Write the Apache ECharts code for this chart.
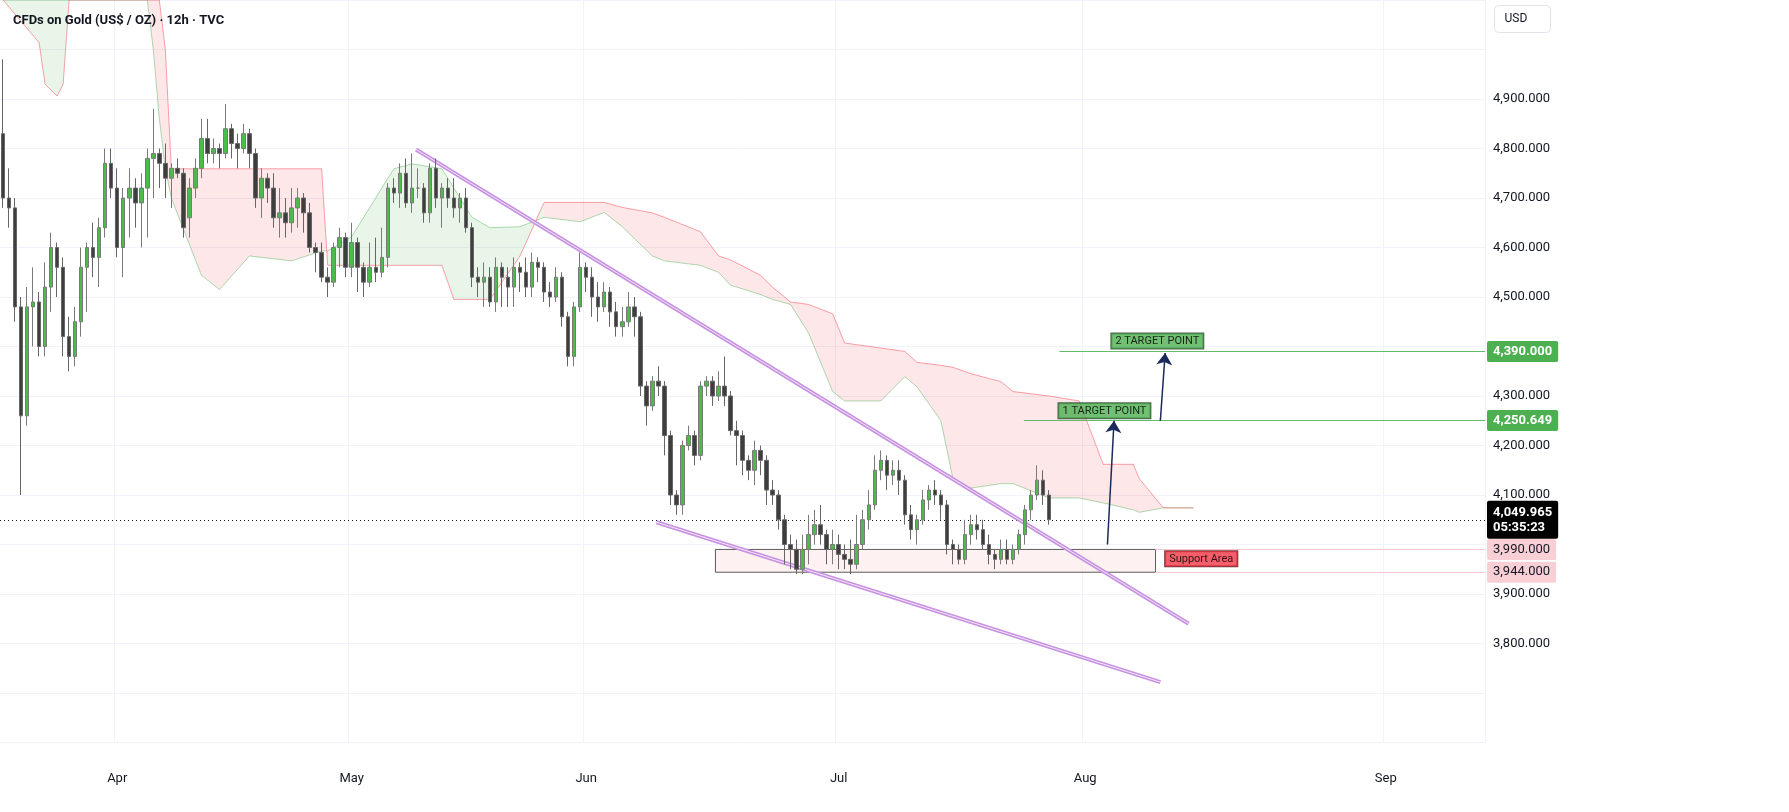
<!DOCTYPE html>
<html>
<head>
<meta charset="utf-8">
<script src="https://cdn.jsdelivr.net/npm/echarts@6/dist/echarts.min.js"></script>
<style>
  html, body { margin: 0; padding: 0; background: #fff; }
  #chart { width: 1789px; height: 812px; }
</style>
</head>
<body>
<div id="chart"></div>
<script>
// 12h candles, [open, close, low, high]
const candles = [
  [4830,4700,4680,4980],[4700,4680,4640,4760],[4680,4480,4450,4700],[4480,4260,4100,4500],
  [4260,4480,4240,4520],[4480,4490,4400,4560],[4490,4400,4380,4510],[4400,4520,4380,4570],
  [4520,4600,4470,4630],[4600,4560,4500,4610],[4560,4420,4380,4580],[4420,4380,4350,4460],
  [4380,4450,4360,4480],[4450,4560,4420,4600],[4560,4600,4470,4610],[4600,4580,4540,4650],
  [4580,4640,4520,4660],[4640,4770,4620,4800],[4770,4720,4700,4800],[4720,4600,4580,4760],
  [4600,4700,4540,4720],[4700,4720,4620,4760],[4720,4690,4640,4740],[4690,4720,4600,4750],
  [4720,4780,4620,4800],[4780,4790,4700,4880],[4790,4770,4720,4800],[4770,4740,4700,4810],
  [4740,4760,4680,4770],[4760,4750,4740,4780],[4750,4640,4620,4760],[4660,4720,4620,4740],
  [4720,4760,4700,4780],[4760,4820,4740,4860],[4820,4790,4770,4860],[4790,4800,4770,4820],
  [4800,4790,4760,4810],[4790,4840,4780,4890],[4840,4810,4780,4850],[4810,4800,4760,4830],
  [4800,4830,4790,4850],[4830,4790,4760,4840],[4790,4700,4680,4800],[4700,4740,4660,4760],
  [4740,4720,4690,4750],[4720,4660,4640,4750],[4660,4670,4620,4720],[4670,4650,4620,4700],
  [4650,4680,4630,4720],[4680,4700,4640,4720],[4700,4670,4630,4710],[4670,4600,4590,4690],
  [4600,4590,4550,4610],[4590,4540,4530,4610],[4540,4530,4500,4560],[4530,4600,4520,4610],
  [4600,4620,4560,4640],[4620,4560,4540,4630],[4560,4610,4540,4650],[4610,4560,4510,4620],
  [4560,4530,4500,4570],[4530,4560,4520,4610],[4560,4550,4530,4620],[4550,4580,4540,4640],
  [4580,4720,4560,4730],[4720,4710,4690,4740],[4710,4750,4680,4770],[4750,4690,4680,4780],
  [4690,4720,4670,4790],[4720,4720,4700,4760],[4720,4670,4650,4730],[4670,4760,4650,4770],
  [4760,4700,4680,4780],[4700,4720,4640,4730],[4720,4700,4680,4740],[4700,4680,4660,4740],
  [4680,4700,4650,4710],[4700,4640,4630,4720],[4640,4540,4520,4650],[4540,4530,4500,4560],
  [4530,4540,4480,4570],[4540,4490,4480,4560],[4490,4560,4470,4580],[4560,4540,4480,4570],
  [4540,4520,4480,4560],[4520,4560,4480,4580],[4560,4550,4510,4570],[4550,4520,4500,4580],
  [4520,4570,4500,4590],[4570,4560,4530,4580],[4560,4510,4490,4570],[4510,4500,4480,4530],
  [4500,4540,4490,4560],[4540,4460,4440,4550],[4460,4380,4360,4470],[4380,4480,4360,4490],
  [4480,4560,4470,4590],[4560,4540,4510,4570],[4540,4500,4460,4560],[4500,4480,4450,4530],
  [4480,4510,4470,4530],[4510,4470,4440,4520],[4470,4440,4420,4490],[4440,4450,4420,4480],
  [4450,4480,4440,4510],[4480,4460,4420,4500],[4460,4320,4300,4470],[4320,4280,4240,4330],
  [4280,4330,4270,4340],[4330,4320,4300,4360],[4320,4220,4180,4330],[4220,4100,4080,4230],
  [4100,4080,4060,4110],[4080,4200,4060,4210],[4200,4220,4190,4240],[4220,4180,4160,4230],
  [4180,4320,4170,4330],[4320,4330,4300,4340],[4330,4300,4280,4340],[4300,4320,4290,4350],
  [4320,4300,4280,4380],[4300,4230,4220,4310],[4230,4220,4160,4250],[4220,4170,4140,4230],
  [4170,4150,4130,4180],[4150,4190,4120,4210],[4190,4170,4140,4200],[4170,4110,4080,4180],
  [4110,4100,4080,4130],[4100,4050,4030,4110],[4050,4000,3960,4060],[4000,3990,3950,4020],
  [3990,3950,3940,4010],[3950,3990,3940,4020],[3990,4020,3960,4060],[4020,4040,4000,4070],
  [4040,4020,4000,4080],[4020,3990,3960,4030],[3990,4000,3960,4030],[4000,3980,3950,4020],
  [3980,3970,3950,4000],[3970,3960,3940,4010],[3960,4000,3950,4060],[4000,4050,3990,4070],
  [4050,4080,4030,4110],[4080,4150,4070,4180],[4150,4170,4130,4190],[4170,4140,4110,4180],
  [4140,4150,4120,4170],[4150,4130,4100,4170],[4130,4060,4040,4140],[4060,4030,4010,4080],
  [4030,4050,4000,4060],[4050,4090,4040,4110],[4090,4110,4070,4120],[4110,4100,4080,4130],
  [4100,4080,4050,4110],[4080,4000,3980,4090],[4000,3990,3960,4010],[3990,3970,3960,4000],
  [3970,4020,3960,4050],[4020,4040,4000,4060],[4040,4030,4010,4060],[4030,4000,3990,4050],
  [4000,3980,3960,4020],[3980,3970,3950,3990],[3970,3990,3960,4010],[3990,3970,3960,4010],
  [3970,3990,3960,4000],[3990,4020,3980,4030],[4020,4070,4000,4080],[4070,4100,4050,4110],
  [4100,4130,4090,4160],[4130,4100,4080,4150],[4100,4050,4040,4110]
];

// ichimoku cloud (shifted forward), bar index -> span A / span B
const cloudIdx = [0,6,7,9,10,11,24,25,26,27,28,33,36,41,48,53,54,58,65,68,73,75,78,81,86,90,96,100,103,108,110,116,119,121,126,128,131,134,138,140,146,150,152,156,158,161,166,168,174,179,183,188,189,193,198];
const spanA = [5100,5100,5100,5100,5100,5100,5100,5000,4860,4760,4700,4544,4515,4583,4573,4593,4593,4622,4759,4769,4759,4720,4661,4640,4642,4661,4652,4671,4642,4583,4573,4564,4550,4524,4505,4495,4485,4427,4309,4290,4290,4339,4319,4250,4133,4114,4123,4123,4094,4094,4084,4070,4065,4074,4074];
const spanB = [5100,5014,4930,4906,4930,5100,5100,5100,5100,5000,4759,4759,4759,4759,4759,4759,4564,4564,4564,4564,4564,4495,4495,4495,4583,4691,4691,4691,4681,4670,4661,4632,4583,4575,4544,4520,4490,4485,4466,4407,4397,4390,4368,4362,4358,4345,4329,4309,4300,4290,4162,4162,4133,4074,4074];

const totalSlots = 247;
const monthTicks = { 19: 'Apr', 58: 'May', 97: 'Jun', 139: 'Jul', 180: 'Aug', 230: 'Sep' };
const lastPrice = 4049.965;
const countdown = '05:35:23';
const target1 = 4250.649, target2 = 4390.000;
const supportTop = 3990, supportBottom = 3944;
const hiddenTicks = [3600, 3700, 4000, 4400, 5000, 5100];

const cats = [];
for (let i = 0; i < totalSlots; i++) cats.push(monthTicks[i] || '');
const isTick = (i) => monthTicks[i] !== undefined;

const cloudSegs = [];
for (let i = 0; i < cloudIdx.length - 1; i++) {
  cloudSegs.push([cloudIdx[i], spanA[i], spanB[i], cloudIdx[i + 1], spanA[i + 1], spanB[i + 1]]);
}

const fmt = (v) => v.toLocaleString('en-US', { minimumFractionDigits: 3, maximumFractionDigits: 3 });
const tag = (bg, fg) => ({
  show: true, position: 'end', distance: 2, align: 'left',
  backgroundColor: bg, color: fg, padding: [4, 6], fontSize: 13, fontFamily: 'Roboto',
  fontWeight: 'bold', borderRadius: 2
});

const chart = echarts.init(document.getElementById('chart'), null, { renderer: 'canvas' });
chart.setOption({
  animation: false,
  backgroundColor: '#fff',
  textStyle: { fontFamily: 'Roboto' },
  title: {
    text: 'CFDs on Gold (US$ / OZ) · 12h · TVC', left: 8, top: 9,
    textStyle: { fontSize: 13, fontWeight: 'bold', color: '#131722', fontFamily: 'Roboto' }
  },
  graphic: [{
    type: 'group', left: 1494, top: 5,
    children: [
      { type: 'rect', shape: { width: 56, height: 27, r: 4 }, style: { fill: '#fff', stroke: '#e0e3eb' } },
      { type: 'text', left: 10, top: 7, style: { text: 'USD', fontSize: 12, fill: '#131722', fontFamily: 'Roboto' } }
    ]
  }],
  grid: { left: 0, right: 304, top: -24, bottom: 69.5 },
  xAxis: [{
    type: 'category', data: cats, boundaryGap: true,
    axisLine: { show: false }, axisTick: { show: false },
    axisLabel: { interval: (i) => isTick(i), color: '#131722', fontSize: 13, margin: 30 },
    splitLine: { show: true, interval: (i) => isTick(i), lineStyle: { color: '#f0f3fa' } }
  }, {
    type: 'value', min: -0.5, max: totalSlots - 0.5, show: false
  }],
  yAxis: {
    type: 'value', position: 'right', min: 3600, max: 5100, interval: 100,
    axisLine: { show: false }, axisTick: { show: false },
    axisLabel: {
      color: '#131722', fontSize: 13, margin: 8,
      formatter: (v) => hiddenTicks.includes(v) ? '' : fmt(v)
    },
    splitLine: { lineStyle: { color: '#f0f3fa' } }
  },
  series: [
    {
      type: 'custom', xAxisIndex: 1, silent: true, z: 1, clip: true,
      data: cloudSegs,
      renderItem: (params, api) => {
        const p1 = api.coord([api.value(0), api.value(1)]);
        const p2 = api.coord([api.value(3), api.value(4)]);
        const p3 = api.coord([api.value(3), api.value(5)]);
        const p4 = api.coord([api.value(0), api.value(2)]);
        const green = api.value(1) + api.value(4) > api.value(2) + api.value(5);
        return {
          type: 'polygon', shape: { points: [p1, p2, p3, p4] },
          style: { fill: green ? 'rgba(76,175,80,0.13)' : 'rgba(242,54,69,0.12)', stroke: null }
        };
      }
    },
    {
      type: 'line', xAxisIndex: 1, silent: true, symbol: 'none', z: 2,
      data: cloudIdx.map((x, i) => [x, spanA[i]]),
      lineStyle: { color: 'rgba(76,175,80,0.45)', width: 1 }
    },
    {
      type: 'line', xAxisIndex: 1, silent: true, symbol: 'none', z: 2,
      data: cloudIdx.map((x, i) => [x, spanB[i]]),
      lineStyle: { color: 'rgba(242,54,69,0.45)', width: 1 }
    },
    {
      type: 'candlestick', data: candles, barWidth: 4, z: 5,
      itemStyle: { color: '#4cbb4c', color0: '#3e3e3e', borderColor: '#7a7a7a', borderColor0: '#666', borderWidth: 1 },
      markLine: {
        silent: true, symbol: 'none',
        data: [{
          yAxis: lastPrice,
          lineStyle: { color: '#131722', type: [1, 3], width: 1 },
          label: Object.assign(tag('#000', '#fff'), { formatter: fmt(lastPrice) + '\n' + countdown, lineHeight: 15 })
        }]
      }
    },
    {
      type: 'line', xAxisIndex: 1, data: [], z: 6,
      markArea: {
        silent: true,
        itemStyle: { color: 'rgba(252,230,230,0.55)', borderColor: '#333', borderWidth: 0.8 },
        data: [[{ coord: [118.5, supportTop] }, { coord: [191.7, supportBottom] }]]
      },
      markLine: {
        silent: true, symbol: 'none',
        data: [
          [{ coord: [175.7, target2], lineStyle: { color: '#66bb6a', width: 1.2, type: 'solid' }, label: Object.assign(tag('#4caf50', '#fff'), { formatter: fmt(target2) }) }, { coord: [totalSlots - 0.5, target2] }],
          [{ coord: [169.8, target1], lineStyle: { color: '#66bb6a', width: 1.2, type: 'solid' }, label: Object.assign(tag('#4caf50', '#fff'), { formatter: fmt(target1) }) }, { coord: [totalSlots - 0.5, target1] }],
          [{ coord: [191.7, supportTop], lineStyle: { color: '#f8c6d0', width: 1, type: 'solid' }, label: Object.assign(tag('#f9cfd6', '#131722'), { formatter: fmt(supportTop), fontWeight: 'normal' }) }, { coord: [totalSlots - 0.5, supportTop] }],
          [{ coord: [191.7, supportBottom], lineStyle: { color: '#f8c6d0', width: 1, type: 'solid' }, label: Object.assign(tag('#f9cfd6', '#131722'), { formatter: fmt(supportBottom), fontWeight: 'normal' }) }, { coord: [totalSlots - 0.5, supportBottom] }]
        ]
      }
    },
    {
      // falling wedge, outer band
      type: 'line', xAxisIndex: 1, data: [], z: 7,
      markLine: {
        silent: true, symbol: 'none', label: { show: false },
        lineStyle: { color: '#c792e0', width: 4, type: 'solid' },
        data: [
          [{ coord: [68.7, 4798] }, { coord: [197.2, 3840] }],
          [{ coord: [108.7, 4045] }, { coord: [192.5, 3722] }]
        ]
      }
    },
    {
      type: 'line', xAxisIndex: 1, data: [], z: 8,
      markLine: {
        silent: true, symbol: 'none', label: { show: false },
        lineStyle: { color: '#f3e6fa', width: 1, type: 'solid' },
        data: [
          [{ coord: [68.7, 4798] }, { coord: [197.2, 3840] }],
          [{ coord: [108.7, 4045] }, { coord: [192.5, 3722] }]
        ]
      }
    },
    {
      // target arrows
      type: 'line', xAxisIndex: 1, data: [], z: 9,
      markLine: {
        silent: true, symbol: ['none', 'arrow'], symbolSize: 12, label: { show: false },
        lineStyle: { color: '#1b2a5a', width: 1.5, type: 'solid' },
        data: [
          [{ coord: [183.7, 4000] }, { coord: [184.8, 4250] }],
          [{ coord: [192.5, 4250] }, { coord: [193.3, 4387] }]
        ]
      }
    },
    {
      type: 'scatter', xAxisIndex: 1, symbolSize: 0, z: 10, silent: true,
      data: [
        { value: [183.2, 4270], label: { formatter: '1 TARGET POINT', backgroundColor: '#4caf50', borderColor: '#1e3d1e', borderWidth: 1 } },
        { value: [192, 4411], label: { formatter: '2 TARGET POINT', backgroundColor: '#4caf50', borderColor: '#1e3d1e', borderWidth: 1 } },
        { value: [199.3, 3971], label: { formatter: 'Support Area', backgroundColor: '#f23645', borderColor: '#5a0d13', borderWidth: 1 } }
      ],
      label: { show: true, position: 'inside', color: '#000', fontSize: 11, padding: [2, 4], fontFamily: 'Roboto' }
    }
  ]
});
</script>
</body>
</html>
